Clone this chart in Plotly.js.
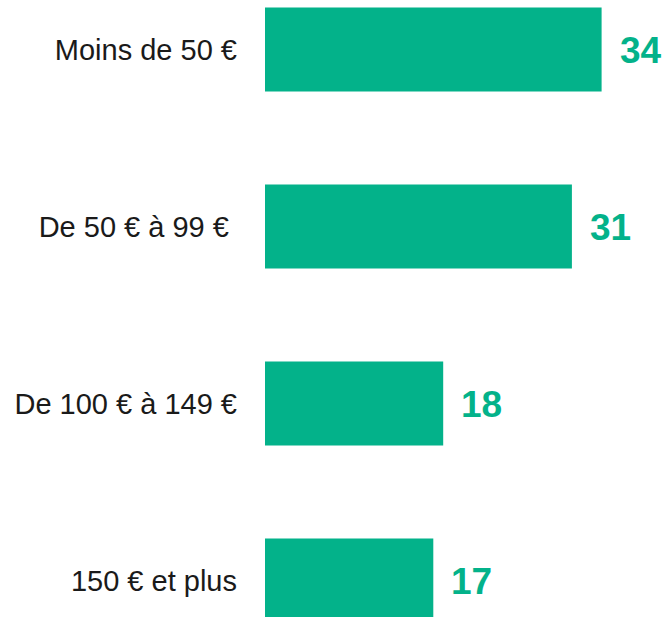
<!DOCTYPE html>
<html>
<head>
<meta charset="utf-8">
<script src="https://cdn.plot.ly/plotly-3.0.1.min.js"></script>
<style>html,body{margin:0;padding:0;background:#fff;}#chart{width:666px;height:617px;}</style>
</head>
<body>
<div id="chart"></div>
<script>
const categories = ["Moins de 50 €", "De 50 € à 99 €\u00a0", "De 100 € à 149 €", "150 € et plus"];
const values = [34, 31, 18, 17];
const barColor = "#03b28a";

const trace = {
  type: "bar",
  orientation: "h",
  x: values,
  y: categories,
  marker: {color: barColor},
  width: 0.475,
  hoverinfo: "none"
};

const annotations = values.map((v, i) => ({
  x: v, y: categories[i], xref: "x", yref: "y",
  text: String(v),
  showarrow: false,
  xanchor: "left",
  xshift: 16,
  yshift: -1,
  font: {family: "Liberation Sans, Arial, sans-serif", size: 37, color: barColor, weight: "bold"}
}));

const layout = {
  width: 666, height: 617,
  margin: {l: 265, r: 0, t: 0, b: 0, pad: 0},
  paper_bgcolor: "#fff", plot_bgcolor: "#fff",
  showlegend: false,
  xaxis: {range: [0, 401/9.9], showgrid: false, zeroline: false, showticklabels: false, showline: false, fixedrange: true},
  yaxis: {
    type: "category",
    range: [3.206, -0.280],
    showgrid: false, zeroline: false, showline: false,
    ticks: "", ticklabelstandoff: 27,
    tickfont: {family: "Liberation Sans, Arial, sans-serif", size: 29, color: "#1a1a1a"},
    fixedrange: true
  },
  annotations: annotations
};

Plotly.newPlot("chart", [trace], layout, {displayModeBar: false, staticPlot: true});
</script>
</body>
</html>
